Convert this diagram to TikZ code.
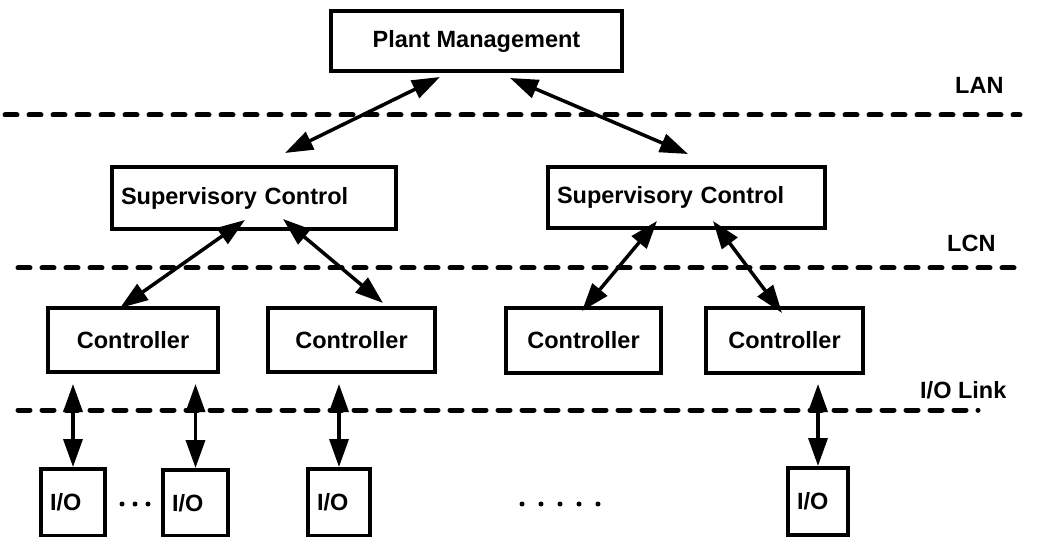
\documentclass[tikz,border=0pt]{standalone}
\usepackage{fontspec}
\setmainfont{Liberation Sans}
\usetikzlibrary{arrows.meta}
\newcommand{\labfont}{\bfseries\fontsize{23.5}{27}\selectfont}
\tikzset{
  box/.style={draw, line width=4pt, font=\labfont, inner sep=0pt, align=center},
  lbox/.style={box, inner xsep=9pt, align=left},
  bus/.style={line width=5pt, dash pattern=on 12pt off 12pt, line cap=round},
  link/.style={line width=3.5pt, {Triangle[length=28pt,width=19pt]}-{Triangle[length=28pt,width=19pt]}},
  netlabel/.style={font=\labfont, inner sep=0pt, anchor=west},
  dot/.style={fill=black}
}
\begin{document}
\begin{tikzpicture}[x=1pt,y=-1pt]
\useasboundingbox (0,0) rectangle (1049,537);
\fill[white] (0,0) rectangle (1049,537);

% bus lines
\coordinate (lanL) at (5,115);   \coordinate (lanR) at (1020,115);
\coordinate (lcnL) at (18,268);  \coordinate (lcnR) at (1022,268);
\coordinate (iolL) at (18,410);  \coordinate (iolR) at (978,410);
\draw[bus] (lanL) -- (lanR);
\draw[bus] (lcnL) -- (lcnR);
\draw[bus] (iolL) -- (iolR);
\node[netlabel] (lan) at (955,85) {LAN};
\node[netlabel] (lcn) at (947,243) {LCN};
\node[netlabel] (iol) at (920,390) {I/O Link};

% boxes
\node[box, minimum width=291pt, minimum height=60pt] (pm) at (476.5,41) {Plant Management};
\node[lbox, text width=266pt, minimum height=62pt] (scL) at (254,198) {Supervisory Control};
\node[lbox, text width=259pt, minimum height=61pt] (scR) at (686.5,197.5) {Supervisory Control};
\node[box, minimum width=170pt, minimum height=64pt] (c1) at (133,340) {Controller};
\node[box, minimum width=167pt, minimum height=64pt] (c2) at (351.5,340) {Controller};
\node[box, minimum width=155pt, minimum height=65pt] (c3) at (583.5,340.5) {Controller};
\node[box, minimum width=157pt, minimum height=65pt] (c4) at (784.5,340.5) {Controller};
\node[lbox, text width=46pt, minimum height=67pt] (io1) at (73,502.5) {I/O};
\node[lbox, text width=47pt, minimum height=66pt] (io2) at (195.5,503) {I/O};
\node[lbox, text width=44pt, minimum height=67pt] (io3) at (339,502.5) {I/O};
\node[lbox, text width=42pt, minimum height=67pt] (io4) at (818,501.5) {I/O};

% links
\draw[link] ([xshift=-36.5pt,yshift=-4pt]pm.south) -- ([xshift=31pt,yshift=12pt]scL.north);
\draw[link] ([xshift=33.5pt,yshift=-5pt]pm.south) -- ([xshift=1.5pt,yshift=11pt]scR.north);
\draw[link] ([xshift=-9pt,yshift=11pt]scL.south) -- ([xshift=-13pt,yshift=-2pt]c1.north);
\draw[link] ([xshift=29pt,yshift=12pt]scL.south) -- ([xshift=31.5pt,yshift=3pt]c2.north);
\draw[link] ([xshift=-29.5pt,yshift=9pt]scR.south) -- ([xshift=-1.5pt,yshift=-5pt]c3.north);
\draw[link] ([xshift=26.5pt,yshift=9pt]scR.south) -- ([xshift=-2.5pt,yshift=-7pt]c4.north);
\draw[link] ([yshift=-10pt]c1.south -| io1.north) -- (io1.north);
\draw[link] ([yshift=-10pt]c1.south -| io2.north) -- (io2.north);
\draw[link] ([yshift=-10pt]c2.south -| io3.north) -- (io3.north);
\draw[link] ([yshift=-9pt]c4.south -| io4.north) -- (io4.north);

% ellipsis dots
\foreach \x in {122,135,148} \fill[dot] (\x,504) circle (2.5pt);
\foreach \x in {522,541,560,579,598} \fill[dot] (\x,504) circle (2.5pt);
\end{tikzpicture}
\end{document}
